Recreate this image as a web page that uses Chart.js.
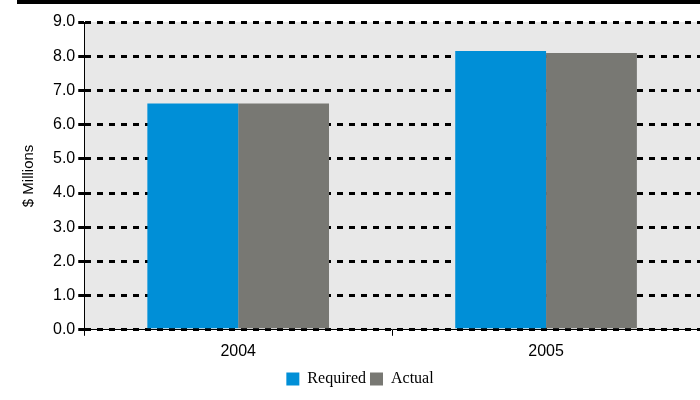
<!DOCTYPE html>
<html><head><meta charset="utf-8">
<script src="https://cdn.jsdelivr.net/npm/chart.js@4"></script>
<style>body{margin:0;background:#fff}#wrap{position:relative;width:700px;height:400px}
#bar{position:absolute;left:17px;top:0;width:683px;height:4px;background:#000}</style>
</head><body><div id="wrap"><div id="bar"></div><canvas id="c" width="700" height="400"></canvas></div>
<script>
const categories = ['2004', '2005'];
const required = [6.62, 8.15];
const actual = [6.62, 8.09];

const bgPlugin = {
  id: 'bg',
  beforeDraw(chart) {
    const a = chart.chartArea, ctx = chart.ctx;
    ctx.save(); ctx.fillStyle = '#e8e8e8';
    ctx.fillRect(a.left, a.top, a.right - a.left, a.bottom - a.top);
    ctx.restore();
  }
};

new Chart(document.getElementById('c'), {
  type: 'bar',
  data: {
    labels: categories,
    datasets: [
      { label: 'Required', data: required, backgroundColor: '#008fd7' },
      { label: 'Actual', data: actual, backgroundColor: '#787873' }
    ]
  },
  options: {
    responsive: false, animation: false,
    layout: { padding: { top: 22, right: 0, left: 20, bottom: 3 } },
    datasets: { bar: { barPercentage: 1, categoryPercentage: 0.59 } },
    plugins: {
      tooltip: { enabled: false },
      legend: {
        position: 'bottom',
        labels: { boxWidth: 13, boxHeight: 13, padding: 4, color: '#000',
          font: { family: 'Liberation Serif', size: 16 } }
      }
    },
    scales: {
      x: {
        grid: { display: true, drawOnChartArea: false, offset: true, color: '#000', tickLength: 6 },
        border: { color: '#000' },
        ticks: { color: '#000', font: { family: 'Liberation Sans', size: 16 }, padding: 6 }
      },
      y: {
        min: 0, max: 9,
        ticks: { stepSize: 1, color: '#000', font: { family: 'Liberation Sans', size: 16 },
          callback: v => v.toFixed(1) },
        grid: { color: '#000', lineWidth: 3, tickLength: 6 },
        border: { color: '#000', width: 1, dash: [6, 6] },
        title: { display: true, text: '$ Millions', color: '#000',
          font: { family: 'Liberation Sans', size: 15 }, padding: { top: 0, bottom: 12 } }
      }
    }
  },
  plugins: [bgPlugin]
});
</script></body></html>
